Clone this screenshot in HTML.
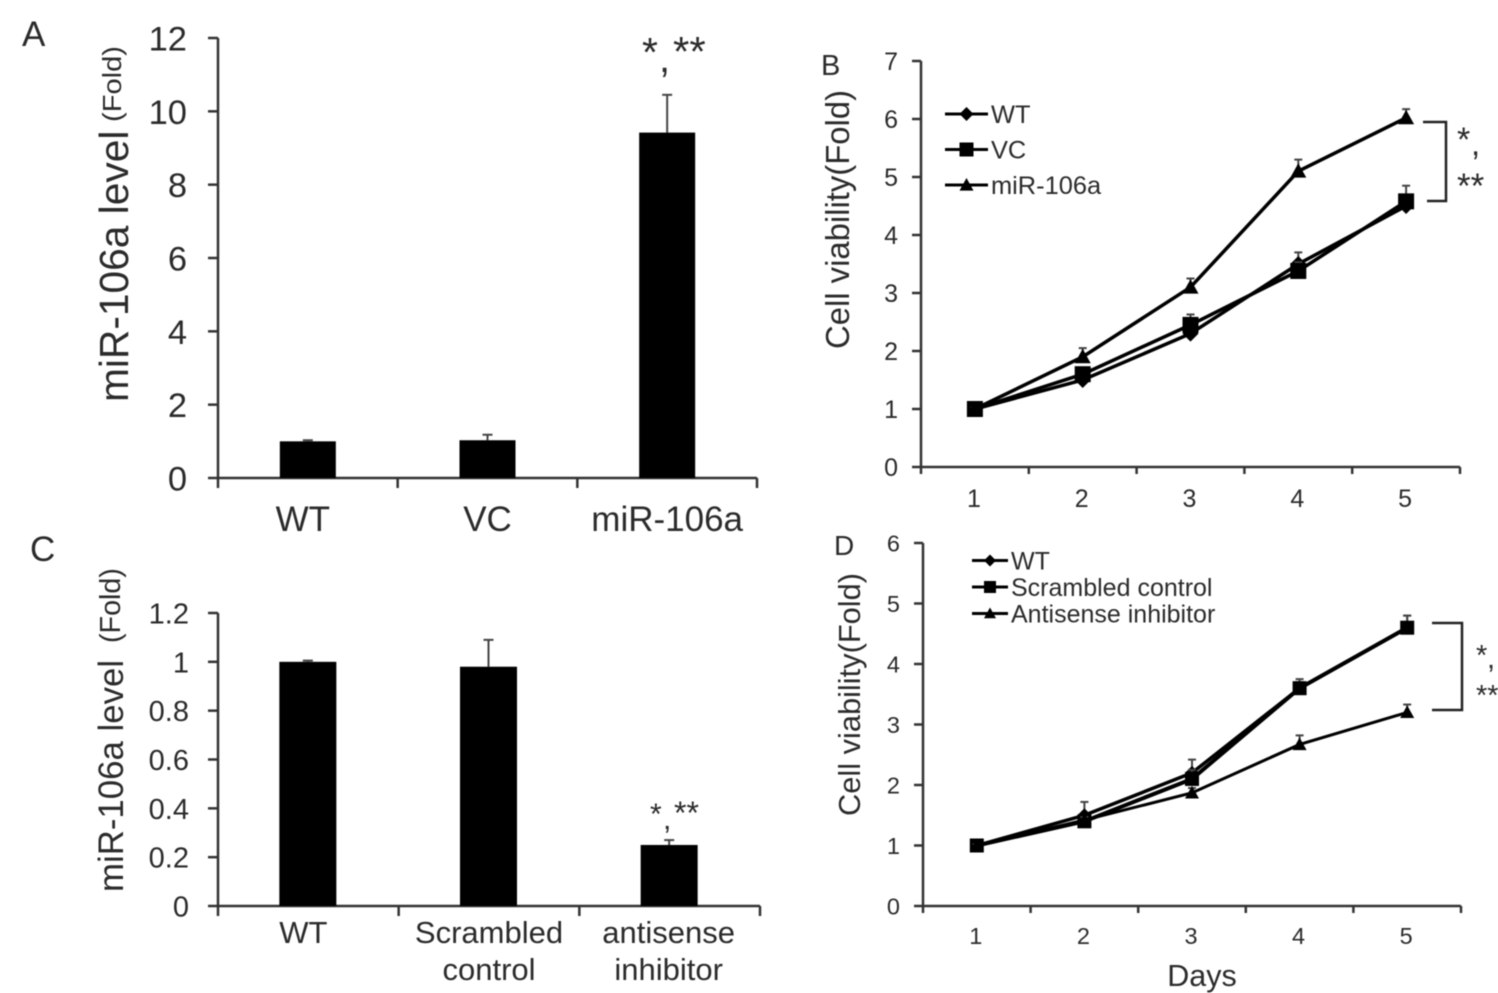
<!DOCTYPE html>
<html lang="en">
<head>
<meta charset="utf-8">
<title>miR-106a level and cell viability</title>
<style>
html,body{margin:0;padding:0;background:#fff;}
svg{display:block;filter:blur(0.5px);}
text{font-family:"Liberation Sans",Arial,sans-serif;fill:#2b2b2b;}
</style>
</head>
<body>
<svg id="fig" xmlns="http://www.w3.org/2000/svg" width="1498" height="993" viewBox="0 0 1498 993">
  <rect x="0" y="0" width="1498" height="993" fill="#fff"/>

  <text x="22" y="46" font-size="35">A</text>
  <text x="821" y="75" font-size="29">B</text>
  <text x="30" y="561" font-size="35">C</text>
  <text x="834" y="555" font-size="28">D</text>

  <text transform="translate(128,402) rotate(-90)" font-size="40.7">miR-106a level</text>
  <text transform="translate(121,122) rotate(-90)" font-size="26" textLength="76" lengthAdjust="spacingAndGlyphs">(Fold)</text>
  <text transform="translate(849,349) rotate(-90)" font-size="33" textLength="259" lengthAdjust="spacingAndGlyphs">Cell viability(Fold)</text>
  <text transform="translate(123,892) rotate(-90)" font-size="34.8">miR-106a level</text>
  <text transform="translate(120,643) rotate(-90)" font-size="28.7">(Fold)</text>
  <text transform="translate(860,816) rotate(-90)" font-size="30.7" textLength="243" lengthAdjust="spacingAndGlyphs">Cell viability(Fold)</text>

  <text x="1202" y="986" font-size="30.5" text-anchor="middle">Days</text>

  <text x="642" y="66" font-size="41">*</text>
  <text x="659" y="72" font-size="40">,</text>
  <text x="673" y="66" font-size="42">**</text>
  <text x="650" y="824" font-size="30">*</text>
  <text x="663" y="829" font-size="30">,</text>
  <text x="674" y="824" font-size="32">**</text>

  <path d="M1423 122H1446V201H1427" fill="none" stroke="#222" stroke-width="2.5"/>
  <text x="1457" y="151" font-size="34">*</text>
  <text x="1471" y="155" font-size="33">,</text>
  <text x="1457" y="198" font-size="35">**</text>
  <path d="M1432 623H1462V710H1432" fill="none" stroke="#222" stroke-width="2.5"/>
  <text x="1476" y="665" font-size="29">*</text>
  <text x="1487" y="668" font-size="29">,</text>
  <text x="1476" y="705" font-size="29">**</text>
</svg>
<script>
// Panel A
const catsA = ["WT", "VC", "miR-106a"];
const valsA = [1, 1.03, 9.42];
const errsA = [0.03, 0.15, 1.03];
const ticksA = [0, 2, 4, 6, 8, 10, 12];
// Panel C
const catsC = [["WT"], ["Scrambled", "control"], ["antisense", "inhibitor"]];
const valsC = [1, 0.98, 0.25];
const errsC = [0.005, 0.11, 0.02];
const ticksC = [0, 0.2, 0.4, 0.6, 0.8, 1, 1.2];
// Panel B
const daysB = [1, 2, 3, 4, 5];
const ticksB = [0, 1, 2, 3, 4, 5, 6, 7];
const wtB = [1, 1.5, 2.3, 3.5, 4.5];
const vcB = [1, 1.6, 2.45, 3.38, 4.58];
const mirB = [1, 1.9, 3.1, 5.1, 6.02];
const wtErrB = [0.02, 0.08, 0.1, 0.2, 0.1];
const vcErrB = [0.02, 0.1, 0.18, 0.15, 0.27];
const mirErrB = [0.02, 0.15, 0.15, 0.2, 0.15];
// Panel D
const daysD = [1, 2, 3, 4, 5];
const ticksD = [0, 1, 2, 3, 4, 5, 6];
const wtD = [1, 1.5, 2.2, 3.6, 4.6];
const scrD = [1, 1.4, 2.1, 3.6, 4.6];
const asD = [1, 1.42, 1.87, 2.67, 3.2];
const wtErrD = [0.02, 0.22, 0.22, 0.1, 0.2];
const scrErrD = [0.02, 0.05, 0.15, 0.15, 0.2];
const asErrD = [0.02, 0.05, 0.08, 0.15, 0.13];

const svg = document.getElementById('fig');
const INK = '#333';
function mk(tag, attrs, txt) {
  const e = document.createElementNS('http://www.w3.org/2000/svg', tag);
  for (const k in attrs) e.setAttribute(k, attrs[k]);
  if (txt !== undefined) e.textContent = txt;
  svg.appendChild(e);
  return e;
}
function linear(d0, d1, r0, r1) {
  return v => r0 + (v - d0) / (d1 - d0) * (r1 - r0);
}
function axes(p, ticks, n) {
  const y = linear(ticks[0], ticks[ticks.length - 1], p.y0, p.y1);
  const band = (p.x1 - p.x0) / n;
  const frame = mk('path', {
    d: 'M' + p.x0 + ' ' + p.y1 + 'V' + p.y0 + 'H' + p.x1,
    fill: 'none', stroke: INK, 'stroke-width': 2.5
  });
  
  
  ticks.forEach(t => {
    const m = mk('line', { x1: p.x0 - p.yTickLen, x2: p.x0, y1: y(t), y2: y(t), stroke: INK, 'stroke-width': 2.5 });
    
    
    const l = mk('text', { x: p.x0 - p.labelGap, y: y(t) + p.tickFont * 0.36, 'font-size': p.tickFont, 'text-anchor': 'end' }, String(t));
    
    
  });
  for (let i = 0; i <= n; i++) {
    const x = p.x0 + band * i;
    const m = mk('line', { x1: x, x2: x, y1: p.y0, y2: p.y0 + p.xTickLen, stroke: INK, 'stroke-width': 2.5 });
    
    
  }
  return { y: y, xc: i => p.x0 + band * (i + 0.5) };
}
function errorBar(x, yTop, yBase, cap) {
  const v = mk('line', { x1: x, x2: x, y1: yTop, y2: yBase, stroke: '#444', 'stroke-width': 2 });
  
  
  const c = mk('line', { x1: x - cap, x2: x + cap, y1: yTop, y2: yTop, stroke: '#444', 'stroke-width': 2 });
  
  
}
function barPanel(p, cats, vals, errs, ticks) {
  const s = axes(p, ticks, cats.length);
  vals.forEach((v, i) => {
    const cx = s.xc(i) + p.shift;
    errorBar(cx, s.y(v + errs[i]), s.y(v), 5);
    const b = mk('rect', { x: cx - p.barW / 2, y: s.y(v), width: p.barW, height: p.y0 - s.y(v), fill: '#000' });
    
    
  });
  cats.forEach((c, i) => {
    const lines = Array.isArray(c) ? c : [c];
    lines.forEach((t, j) => {
      const l = mk('text', { x: s.xc(i) + p.labelShift[i], y: p.catY + j * p.catLine, 'font-size': p.catFont, 'text-anchor': 'middle' }, t);
      
      
    });
  });
}
function marker(kind, x, y, r) {
  let e;
  if (kind === 'diamond') {
    e = mk('polygon', { points: [x, y - r, x + r, y, x, y + r, x - r, y].join(' '), fill: '#000' });
  } else if (kind === 'square') {
    e = mk('rect', { x: x - r, y: y - r, width: 2 * r, height: 2 * r, fill: '#000' });
  } else {
    e = mk('polygon', { points: [x, y - r, x + r, y + r * 0.8, x - r, y + r * 0.8].join(' '), fill: '#000' });
  }
  return e;
}
function linePanel(p, days, ticks, series) {
  const s = axes(p, ticks, days.length);
  days.forEach((d, i) => {
    const l = mk('text', { x: s.xc(i) - 1, y: p.catY, 'font-size': p.tickFont, 'text-anchor': 'middle' }, String(d));
    
    
  });
  series.forEach(se => {
    se.vals.forEach((v, i) => errorBar(s.xc(i), s.y(v + se.errs[i]), s.y(v), 4));
    const pts = se.vals.map((v, i) => s.xc(i) + ',' + s.y(v)).join(' ');
    const ln = mk('polyline', { points: pts, fill: 'none', stroke: '#000', 'stroke-width': se.w });
    
    
    se.vals.forEach((v, i) => {
      const m = marker(se.kind, s.xc(i), s.y(v), se.r);
      
      
    });
  });
  series.forEach((se, i) => {
    const ly = p.legY + i * p.legStep;
    const ll = mk('line', { x1: p.legX, x2: p.legX + p.legW, y1: ly, y2: ly, stroke: '#000', 'stroke-width': 3 });
    
    
    const lm = marker(se.kind, p.legX + p.legW / 2, ly, se.r - 1);
    
    
    const lt = mk('text', { x: p.legX + p.legW + 3, y: ly + p.legFont * 0.36, 'font-size': p.legFont }, se.name);
    
    
  });
}

barPanel({ x0: 218, x1: 757, y0: 478, y1: 38, barW: 56, shift: 0, tickFont: 34.5, labelGap: 31, yTickLen: 10, xTickLen: 10, catY: 531, catLine: 0, catFont: 35, labelShift: [-5, 0, 0] }, catsA, valsA, errsA, ticksA);
barPanel({ x0: 218, x1: 760, y0: 906, y1: 613, barW: 57, shift: -0.5, tickFont: 29, labelGap: 29, yTickLen: 10, xTickLen: 10, catY: 943, catLine: 37, catFont: 31, labelShift: [-5, 0, -1] }, catsC, valsC, errsC, ticksC);

linePanel({ x0: 921, x1: 1460, y0: 467, y1: 61, tickFont: 25, labelGap: 23, yTickLen: 9, xTickLen: 7, catY: 507, legX: 945, legW: 43, legY: 114, legStep: 35.5, legFont: 25.4 }, daysB, ticksB, [
  { name: 'WT', kind: 'diamond', vals: wtB, errs: wtErrB, r: 8, w: 3.5 },
  { name: 'VC', kind: 'square', vals: vcB, errs: vcErrB, r: 8, w: 3.5 },
  { name: 'miR-106a', kind: 'triangle', vals: mirB, errs: mirErrB, r: 8, w: 3.5 }
]);
linePanel({ x0: 923, x1: 1461, y0: 906, y1: 543, tickFont: 23.5, labelGap: 23, yTickLen: 9, xTickLen: 7, catY: 944, legX: 972, legW: 36, legY: 560.5, legStep: 26.5, legFont: 25 }, daysD, ticksD, [
  { name: 'WT', kind: 'diamond', vals: wtD, errs: wtErrD, r: 7, w: 3.5 },
  { name: 'Scrambled control', kind: 'square', vals: scrD, errs: scrErrD, r: 7, w: 4 },
  { name: 'Antisense inhibitor', kind: 'triangle', vals: asD, errs: asErrD, r: 7, w: 3 }
]);
</script>
</body>
</html>
